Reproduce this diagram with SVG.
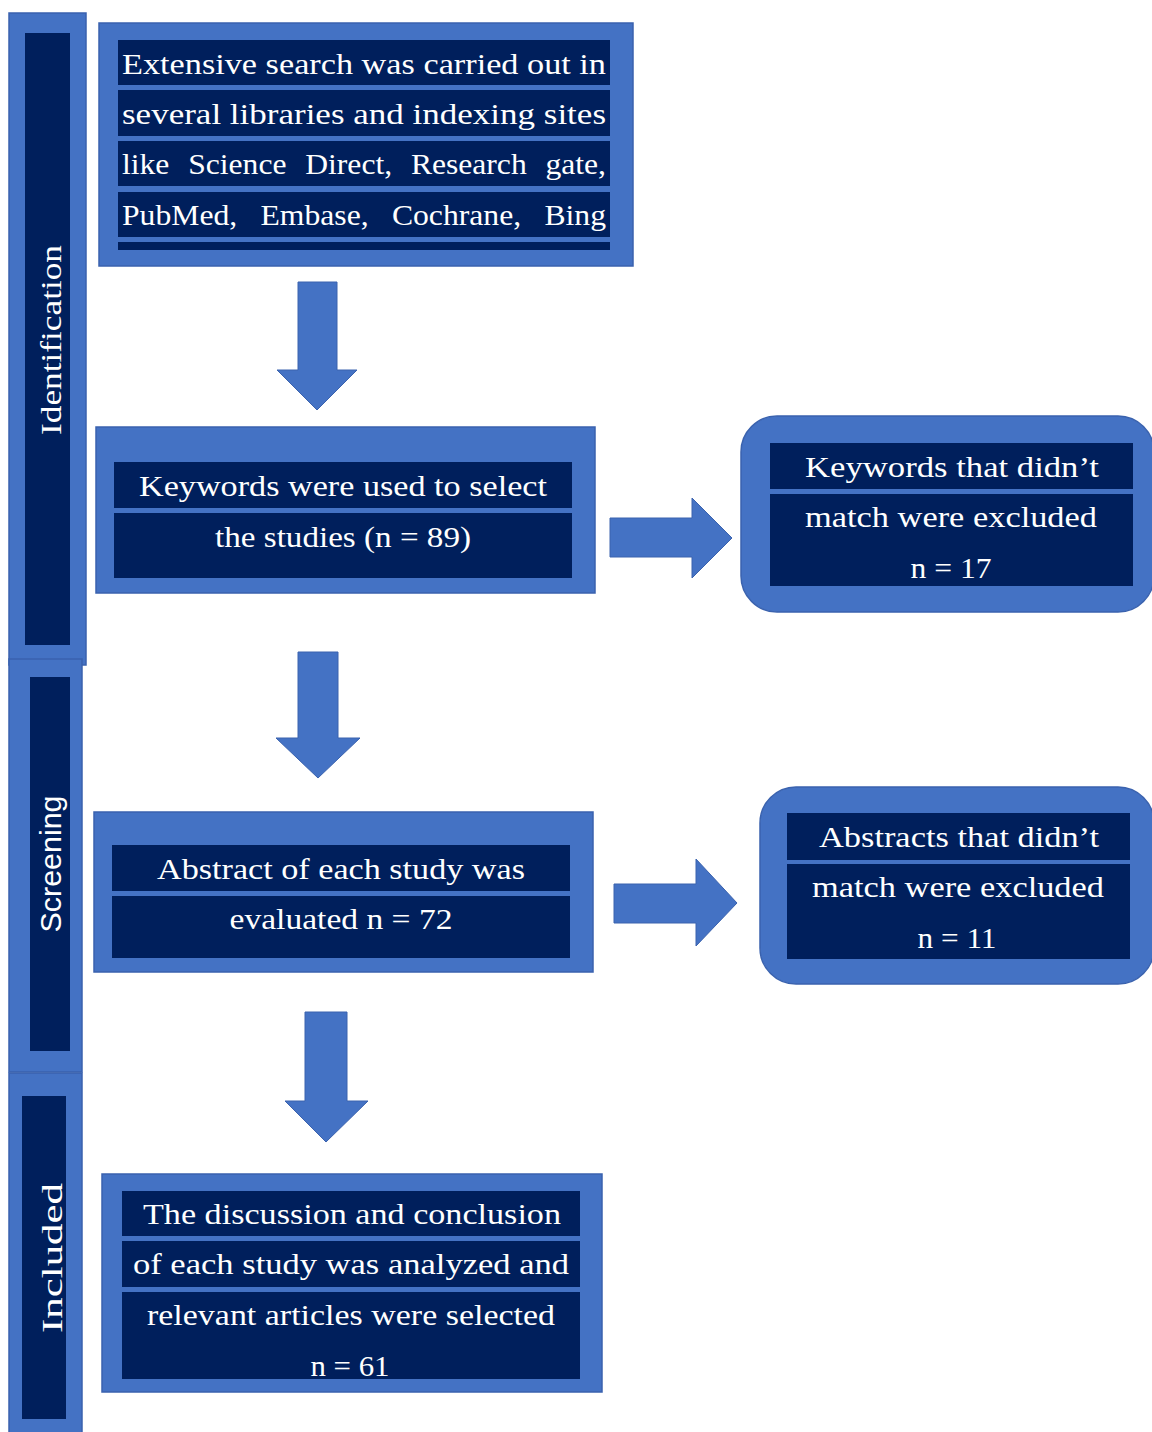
<svg xmlns="http://www.w3.org/2000/svg" width="1152" height="1432" viewBox="0 0 1152 1432">
<style>
.outer{fill:#4472C4;stroke:#3A62AE;stroke-width:1.5}
.inner{fill:#001F5C}
.t{font-family:"Liberation Serif","DejaVu Serif",serif;font-size:29px;fill:#FFFFFF;text-anchor:middle}
.ts{font-family:"Liberation Sans",Arial,sans-serif;font-size:30px;fill:#FFFFFF;text-anchor:middle}
.arrow{fill:#4472C4;stroke:#3A62AE;stroke-width:1}
</style>
<rect width="1152" height="1432" fill="#FFFFFF"/>

<g id="phase-identification">
<rect class="outer" x="9" y="13" width="77" height="652"/>
<rect class="inner" x="25" y="33" width="45" height="612"/>
<text class="t" font-size="31" transform="translate(61,340) rotate(-90)" textLength="190" lengthAdjust="spacingAndGlyphs">Identification</text>
</g>

<g id="phase-screening">
<rect class="outer" x="9" y="659" width="73" height="413"/>
<rect class="inner" x="30" y="677" width="40" height="374"/>
<text class="ts" transform="translate(61,864) rotate(-90)" textLength="137" lengthAdjust="spacingAndGlyphs">Screening</text>
</g>

<g id="phase-included">
<rect class="outer" x="9" y="1073" width="73" height="370"/>
<rect class="inner" x="22" y="1096" width="44" height="323"/>
<text class="t" font-size="32" transform="translate(62,1258) rotate(-90)" textLength="150" lengthAdjust="spacingAndGlyphs">Included</text>
</g>

<g id="connectors">
<polygon class="arrow" points="298,282 337,282 337,370 357,370 317,410 277,370 298,370"/>
<polygon class="arrow" points="298,652 338,652 338,738 360,738 318,778 276,738 298,738"/>
<polygon class="arrow" points="305,1012 347,1012 347,1101 368,1101 326,1142 285,1101 305,1101"/>
<polygon class="arrow" points="610,518 692,518 692,498 732,538 692,578 692,557 610,557"/>
<polygon class="arrow" points="614,884 696,884 696,859 737,903 696,946 696,923 614,923"/>
</g>

<g id="node-search">
<rect class="outer" x="99" y="23" width="534" height="243"/>
<rect class="inner" x="118" y="40" width="492" height="45"/>
<rect class="inner" x="118" y="90" width="492" height="46"/>
<rect class="inner" x="118" y="141" width="492" height="45"/>
<rect class="inner" x="118" y="192" width="492" height="45"/>
<rect class="inner" x="118" y="242" width="492" height="8"/>
<text class="t" x="364" y="74" textLength="484" lengthAdjust="spacingAndGlyphs">Extensive search was carried out in</text>
<text class="t" x="364" y="124" textLength="484" lengthAdjust="spacingAndGlyphs">several libraries and indexing sites</text>
<text class="t" x="364" y="174" word-spacing="10" textLength="484" lengthAdjust="spacingAndGlyphs">like Science Direct, Research gate,</text>
<text class="t" x="364" y="225" word-spacing="14" textLength="484" lengthAdjust="spacingAndGlyphs">PubMed, Embase, Cochrane, Bing</text>
</g>

<g id="node-keywords">
<rect class="outer" x="96" y="427" width="499" height="166"/>
<rect class="inner" x="114" y="462" width="458" height="46"/>
<rect class="inner" x="114" y="513" width="458" height="65"/>
<text class="t" x="343" y="496" textLength="408" lengthAdjust="spacingAndGlyphs">Keywords were used to select</text>
<text class="t" x="343" y="547" textLength="256" lengthAdjust="spacingAndGlyphs">the studies (n = 89)</text>
</g>

<g id="node-keywords-excluded">
<rect class="outer" x="741" y="416" width="413" height="196" rx="36" ry="36"/>
<rect class="inner" x="770" y="443" width="363" height="46"/>
<rect class="inner" x="770" y="494" width="363" height="92"/>
<text class="t" x="952" y="477" textLength="294" lengthAdjust="spacingAndGlyphs">Keywords that didn’t</text>
<text class="t" x="951" y="527" textLength="292" lengthAdjust="spacingAndGlyphs">match were excluded</text>
<text class="t" x="951" y="578" textLength="81" lengthAdjust="spacingAndGlyphs">n = 17</text>
</g>

<g id="node-abstract">
<rect class="outer" x="94" y="812" width="499" height="160"/>
<rect class="inner" x="112" y="845" width="458" height="46"/>
<rect class="inner" x="112" y="896" width="458" height="62"/>
<text class="t" x="341" y="879" textLength="368" lengthAdjust="spacingAndGlyphs">Abstract of each study was</text>
<text class="t" x="341" y="929" textLength="223" lengthAdjust="spacingAndGlyphs">evaluated n = 72</text>
</g>

<g id="node-abstract-excluded">
<rect class="outer" x="760" y="787" width="394" height="197" rx="36" ry="36"/>
<rect class="inner" x="787" y="813" width="343" height="47"/>
<rect class="inner" x="787" y="864" width="343" height="95"/>
<text class="t" x="959" y="847" textLength="280" lengthAdjust="spacingAndGlyphs">Abstracts that didn’t</text>
<text class="t" x="958" y="897" textLength="292" lengthAdjust="spacingAndGlyphs">match were excluded</text>
<text class="t" x="957" y="948" textLength="79" lengthAdjust="spacingAndGlyphs">n = 11</text>
</g>

<g id="node-included">
<rect class="outer" x="102" y="1174" width="500" height="218"/>
<rect class="inner" x="122" y="1191" width="458" height="45"/>
<rect class="inner" x="122" y="1241" width="458" height="46"/>
<rect class="inner" x="122" y="1292" width="458" height="87"/>
<text class="t" x="352" y="1224" textLength="418" lengthAdjust="spacingAndGlyphs">The discussion and conclusion</text>
<text class="t" x="351" y="1274" textLength="436" lengthAdjust="spacingAndGlyphs">of each study was analyzed and</text>
<text class="t" x="351" y="1325" textLength="408" lengthAdjust="spacingAndGlyphs">relevant articles were selected</text>
<text class="t" x="350" y="1376" textLength="79" lengthAdjust="spacingAndGlyphs">n = 61</text>
</g>
</svg>
